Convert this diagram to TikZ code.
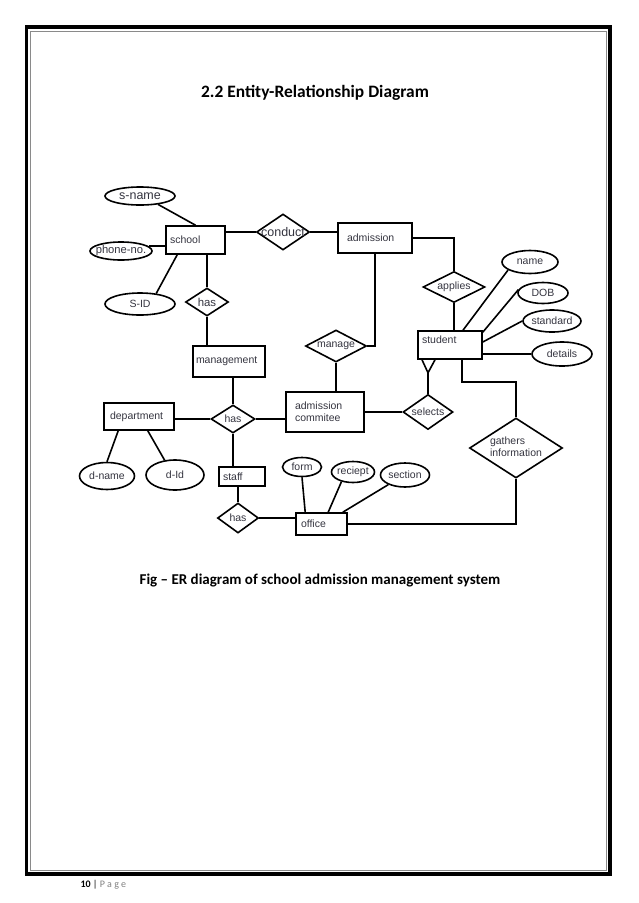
\documentclass[tikz,border=0pt]{standalone}
\usepackage{fontspec}
\setmainfont{Liberation Sans}
\newfontfamily\calib{Carlito}
\usetikzlibrary{shapes.geometric,calc}
\definecolor{txt}{HTML}{34343F}
\definecolor{rim}{HTML}{8A8A8A}
\newcommand{\zw}[1]{\makebox[0pt]{#1}}
\newcommand{\erfont}{\fontsize{10.5}{12}\selectfont}
\tikzset{
 entity/.style={draw,line width=1.6pt,inner xsep=4pt,inner ysep=0pt,align=left,text=txt,font=\erfont},
 attr/.style={ellipse,draw,line width=1.6pt,inner sep=0pt,text=txt,font=\erfont},
 rel/.style={diamond,draw,line width=1.6pt,inner sep=0pt,text=txt,font=\erfont},
 link/.style={line width=1.6pt}
}

\begin{document}
\begin{tikzpicture}[x=1pt,y=-1pt]
\useasboundingbox (0,0) rectangle (638,903);
% page frame
\draw[line width=3.5pt] (26.5,27) rectangle (610,874);
\draw[rim,line width=0.9pt] (30.5,31) rectangle (606,870.5);
\node[font=\calib\bfseries\fontsize{17.4}{20}\selectfont] (title) at (315,93) {2.2 Entity-Relationship Diagram};
\node[font=\calib\bfseries\fontsize{15}{18}\selectfont] (caption) at (320,580) {Fig – ER diagram of school admission management system};
\node[anchor=base west,font=\calib\fontsize{10}{12}\selectfont] (folio) at (77,887) {\textbf{10} | \textcolor{gray}{P a g e}};

% entities
\node[entity,text width=51,minimum height=28] (school) at (195.5,240) {school};
\node[entity,inner xsep=9pt,text width=56,minimum height=30] (admission) at (375,238) {admission};
\node[entity,text width=56,minimum height=28,text depth=10pt] (student) at (450,345) {student};
\node[entity,inner xsep=3pt,text width=66,minimum height=31] (management) at (229,361.5) {management};
\node[entity,inner xsep=6pt,text width=58,minimum height=27] (department) at (139,416.5) {department};
\node[entity,inner xsep=9pt,text width=60,minimum height=40] (commitee) at (325,412) {admission\\commitee};
\node[entity,text width=38,minimum height=19] (staff) at (242,476.5) {staff};
\node[entity,inner xsep=5pt,text width=41,minimum height=22] (office) at (321.5,524) {office};

% attributes
\node[attr,minimum width=70,minimum height=18,font=\fontsize{12.5}{15}\selectfont] (sname) at (140,196) {\zw{s-name}};
\node[attr,minimum width=62,minimum height=18,font=\fontsize{11.2}{14}\selectfont] (phone) at (121,251) {\zw{phone-no.}};
\node[attr,minimum width=70,minimum height=22] (sid) at (140,304) {\zw{S-ID}};
\node[attr,minimum width=56,minimum height=23] (name) at (530,262) {\zw{name}};
\node[attr,minimum width=50,minimum height=21] (dob) at (543,293) {\zw{DOB}};
\node[attr,minimum width=58,minimum height=22] (standard) at (552,321) {\zw{standard}};
\node[attr,minimum width=60,minimum height=24] (details) at (562,354) {\zw{details}};
\node[attr,minimum width=55,minimum height=27] (dname) at (107,476) {\zw{d-name}};
\node[attr,minimum width=58,minimum height=30] (did) at (175,475) {\zw{d-Id}};
\node[attr,minimum width=39,minimum height=19] (form) at (302,467) {\zw{form}};
\node[attr,minimum width=43,minimum height=21] (reciept) at (353,472) {\zw{reciept}};
\node[attr,minimum width=49,minimum height=24] (section) at (405,475) {\zw{section}};

% relationships
\node[rel,minimum width=53,minimum height=36,font=\fontsize{12.5}{14}\selectfont] (conduct) at (283,232) {\zw{conduct}};
\node[rel,minimum width=43,minimum height=28,font=\fontsize{11.4}{13}\selectfont] (hastop) at (207,302) {\zw{has}};
\node[rel,minimum width=62,minimum height=31] (applies) at (454,287) {\zw{applies}};
\node[rel,minimum width=61,minimum height=32] (manage) at (336,346) {\zw{manage}};
\node[rel,minimum width=44,minimum height=28] (hasmid) at (233,419) {\zw{has}};
\node[rel,minimum width=50,minimum height=35] (selects) at (428,412) {\zw{selects}};
\node[rel,minimum width=93,minimum height=60] (gathers) at (516,448) {\zw{\begin{tabular}{@{}l@{}}gathers\\information\end{tabular}}};
\node[rel,minimum width=41,minimum height=30] (hasbot) at (238,518) {\zw{has}};

% school side
\draw[link] (sname.-25) -- (school.north);
\draw[link] (phone.10) -- (phone.10 -| school.west);
\draw[link] (sid.33) -- ([xshift=12pt]school.south west);
\draw[link] (school.south -| hastop.north) -- (hastop.north);
\draw[link] (hastop.south) -- (hastop.south |- management.north);
\draw[link] (school.east |- conduct.west) -- (conduct.west);
\draw[link] (conduct.east) -- (conduct.east -| admission.west);
% admission and student
\draw[link] (admission.east) -| (applies.north);
\draw[link] (applies.south) -- (applies.south |- student.north);
\draw[link] (admission.south) |- (manage.east);
\draw[link] (manage.south) -- (manage.south |- commitee.north);
\draw[link] (name.-160) -- ([xshift=13pt]student.north);
\draw[link] (dob.172) -- ([yshift=-2pt]student.north east);
\draw[link] (standard.west) -- ([yshift=3pt]student.east);
\draw[link] (details.west) -- (details.west -| student.east);
\coordinate (crow) at ($(selects.north |- student.south)+(0,13)$);
\draw[link] ($(crow |- student.south)+(-6,0)$) -- (crow) -- ($(crow |- student.south)+(7,0)$);
\draw[link] (crow) -- (selects.north);
\draw[link] ($(student.south)+(12,0)$) -- ++(0,22) -| (gathers.north);
\draw[link] (gathers.south) |- (office.east);
\draw[link] (commitee.east) -- (selects.west);
% management, department, staff
\draw[link] (hasmid.north |- management.south) -- (hasmid.north);
\draw[link] (department.east |- hasmid.west) -- (hasmid.west);
\draw[link] (hasmid.east) -- (hasmid.east -| commitee.west);
\draw[link] (hasmid.south) -- (hasmid.south |- staff.north);
\draw[link] ([xshift=15pt]department.south west) -- (dname.north);
\draw[link] ([xshift=-27pt]department.south east) -- (did.125);
\draw[link] (staff.south -| hasbot.north) -- (hasbot.north);
\draw[link] (hasbot.east) -- (hasbot.east -| office.west);
% office
\draw[link] (form.south) -- ([xshift=10pt]office.north west);
\draw[link] (reciept.-140) -- ([xshift=33pt]office.north west);
\draw[link] (section.-150) -- ([xshift=-5pt]office.north east);
\end{tikzpicture}
\end{document}
